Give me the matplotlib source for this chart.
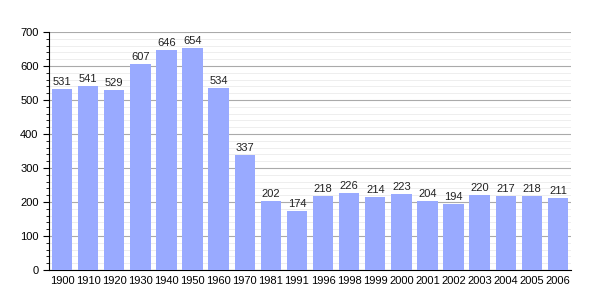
import matplotlib
matplotlib.use("Agg")
import matplotlib.pyplot as plt
from matplotlib.ticker import MultipleLocator

plt.rcParams['font.family'] = ['Liberation Sans', 'DejaVu Sans']

years = ["1900","1910","1920","1930","1940","1950","1960","1970","1981","1991",
         "1996","1998","1999","2000","2001","2002","2003","2004","2005","2006"]
values = [531,541,529,607,646,654,534,337,202,174,218,226,214,223,204,194,220,217,218,211]

fig = plt.figure(figsize=(6, 3), dpi=100)
ax = fig.add_axes([49/600, 30/300, (571-49)/600, (270-32)/300])
x = range(len(years))
ax.bar(x, values, width=0.78, color="#99AAFF", zorder=3)
for xi, v in zip(x, values):
    ax.text(xi, v + 6, str(v), ha="center", va="bottom", fontsize=8, color="#222222", zorder=4)
ax.set_xlim(-0.5, len(years) - 0.5)
ax.set_ylim(0, 700)
ax.set_xticks(list(x))
ax.set_xticklabels(years, fontsize=8)
ax.yaxis.set_major_locator(MultipleLocator(100))
ax.yaxis.set_minor_locator(MultipleLocator(20))
ax.tick_params(axis="y", which="major", labelsize=8, length=4, direction="out")
ax.tick_params(axis="y", which="minor", length=2, direction="out")
ax.tick_params(axis="x", length=0, pad=4)
ax.grid(axis="y", which="major", color="#aaaaaa", linewidth=0.8, zorder=0)
ax.grid(axis="y", which="minor", color="#ebebeb", linewidth=0.6, zorder=0)
for s in ["top", "right"]:
    ax.spines[s].set_visible(False)
ax.spines["left"].set_color("black")
ax.spines["bottom"].set_color("black")
fig.savefig("out.png", dpi=100)
